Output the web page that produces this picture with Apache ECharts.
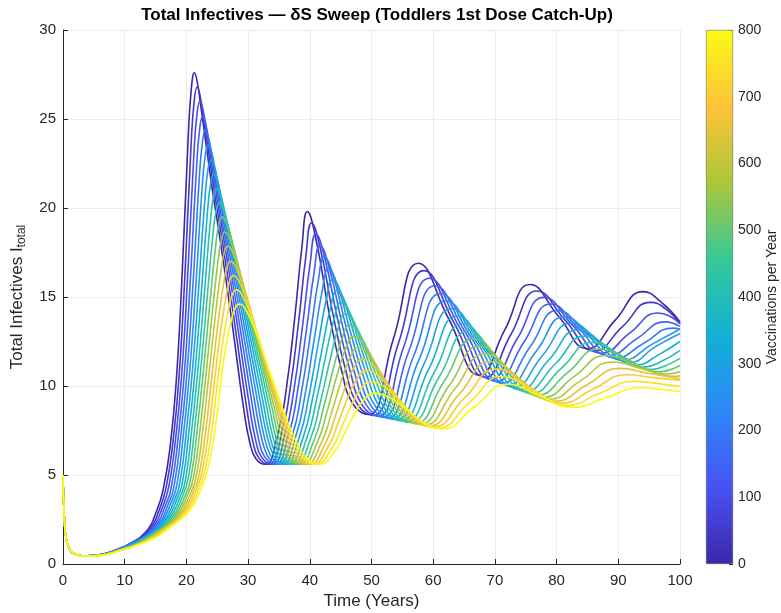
<!DOCTYPE html>
<html><head><meta charset="utf-8">
<script src="https://cdn.jsdelivr.net/npm/echarts@6/dist/echarts.min.js"></script>
<style>html,body{margin:0;padding:0;background:#fff}#c{width:781px;height:613px}</style>
</head><body><div id="c"></div>
<script>
// Vaccinations per year (δS) for each curve
const deltaS = [0,50,100,150,200,250,300,350,400,450,500,550,600,650,700,750,800];
const xTicks = [0,10,20,30,40,50,60,70,80,90,100];
const yTicks = [0,5,10,15,20,25,30];
const cbTicks = [0,100,200,300,400,500,600,700,800];

// [time (years), total infectives]
const I_0 = [[0,5],[0.25,2.3],[0.6,1.25],[1.2,0.75],[2,0.55],[3,0.46],[5,0.48],[7,0.6],[9,0.85],
 [10.3,1.05],[13.3,1.75],[15.3,3.1],[16.3,4.3],[17.3,6.4],[18.3,9.99],[19.3,16.2],[20.3,24.01],[20.8,26.69],[21.3,27.6],
 [21.8,27.0],[22.3,25.81],[23.3,23.29],[24.3,20.81],[25.3,18.6],[27.3,13.8],[29.3,8.69],[30.3,6.8],[31.3,5.9],[32.8,5.6],
 [34.84,7.3],[36.2,9.86],[37.56,13.84],[38.72,17.81],[39.6,19.8],[41.09,18.09],[43.07,14.21],[45.05,11.02],[47.03,8.97],[49.5,8.4],
 [53.55,12.65],[57.6,16.9],[62.55,13.75],[67.5,10.6],[71.6,13.15],[75.7,15.7],[80.35,13.9],[85,12.1],[89.5,13.7],[94,15.3],[97,14.7],[100,13.6]];
const I_50 = [[0,5],[0.25,2.3],[0.6,1.25],[1.2,0.75],[2,0.55],[3,0.46],[5,0.48],[7,0.6],[9,0.84],
 [10.75,1.12],[13.75,1.83],[15.75,3.18],[16.75,4.37],[17.75,6.65],[18.75,10.24],[19.75,16.17],[20.75,23.47],[21.25,25.95],[21.75,26.8],
 [22.25,26.24],[22.75,25.14],[23.75,22.78],[24.75,20.41],[25.75,18.29],[27.75,13.69],[29.75,8.82],[30.75,6.9],[31.75,5.95],[33.34,5.6],
 [35.42,7.3],[36.81,9.84],[38.2,13.64],[39.38,17.34],[40.28,19.16],[41.78,17.6],[43.77,14.01],[45.76,10.97],[47.76,8.96],[50.25,8.35],
 [54.38,12.42],[58.5,16.48],[63.47,13.49],[68.44,10.49],[72.63,12.92],[76.81,15.34],[81.48,13.66],[86.15,11.97],[90.68,13.34],[95.2,14.7],[97.6,14.35],[100,13.5]];
const I_100 = [[0,5],[0.25,2.3],[0.6,1.25],[1.2,0.75],[2,0.55],[3,0.46],[5,0.48],[7,0.59],[9,0.83],
 [11.2,1.18],[14.2,1.91],[16.2,3.25],[17.2,4.44],[18.2,6.88],[19.2,10.46],[20.2,16.11],[21.2,22.91],[21.7,25.22],[22.2,26.0],
 [22.7,25.49],[23.2,24.47],[24.2,22.25],[25.2,20.0],[26.2,17.96],[28.2,13.56],[30.2,8.92],[31.2,7.0],[32.2,6.0],[33.89,5.6],
 [36.01,7.29],[37.43,9.8],[38.85,13.45],[40.05,16.87],[40.97,18.53],[42.47,17.12],[44.48,13.79],[46.49,10.9],[48.49,8.93],[51.0,8.3],
 [55.2,12.18],[59.4,16.05],[64.39,13.22],[69.38,10.38],[73.66,12.68],[77.93,14.98],[82.62,13.41],[87.3,11.84],[91.85,12.97],[96.4,14.1],[98.2,13.95],[100,13.5]];
const I_150 = [[0,5],[0.25,2.3],[0.6,1.25],[1.2,0.75],[2,0.55],[3,0.46],[5,0.48],[7,0.59],[9,0.83],
 [11.65,1.25],[14.65,1.98],[16.65,3.33],[17.65,4.51],[18.65,7.06],[19.65,10.63],[20.65,16.0],[21.65,22.3],[22.15,24.43],[22.65,25.15],
 [23.15,24.69],[23.65,23.74],[24.65,21.67],[25.65,19.54],[26.65,17.58],[28.65,13.38],[30.65,8.99],[31.65,7.1],[32.65,6.05],[34.43,5.6],
 [36.59,7.27],[38.04,9.75],[39.48,13.22],[40.7,16.39],[41.64,17.89],[43.16,16.62],[45.18,13.56],[47.2,10.81],[49.22,8.91],[51.75,8.25],
 [56.03,11.94],[60.3,15.63],[65.31,12.95],[70.32,10.26],[74.68,12.44],[79.04,14.61],[83.75,13.16],[88.45,11.71],[93.03,12.66],[97.6,13.6],[100,13.35]];
const I_200 = [[0,5],[0.25,2.3],[0.6,1.25],[1.2,0.75],[2,0.55],[3,0.46],[5,0.48],[7,0.58],[9,0.82],
 [12.1,1.31],[15.1,2.06],[17.1,3.4],[18.1,4.58],[19.1,7.24],[20.1,10.78],[21.1,15.89],[22.1,21.73],[22.6,23.69],[23.1,24.35],
 [23.6,23.93],[24.1,23.06],[25.1,21.12],[26.1,19.11],[27.1,17.23],[29.1,13.22],[31.1,9.05],[32.1,7.2],[33.1,6.1],[34.1,5.71],[34.98,5.6],
 [37.19,7.25],[38.66,9.68],[40.13,12.98],[41.37,15.9],[42.33,17.25],[43.86,16.11],[45.89,13.3],[47.92,10.72],[49.96,8.87],[52.5,8.2],
 [56.85,11.7],[61.2,15.2],[66.23,12.68],[71.26,10.15],[75.71,12.2],[80.15,14.25],[84.88,12.92],[89.6,11.58],[94.2,12.42],[98.8,13.25],[100,13.2]];
const I_250 = [[0,5],[0.25,2.3],[0.6,1.25],[1.2,0.75],[2,0.55],[3,0.46],[5,0.48],[7,0.58],[9,0.81],
 [12.55,1.38],[15.55,2.14],[17.55,3.48],[18.55,4.64],[19.55,7.39],[20.55,10.9],[21.55,15.75],[22.55,21.14],[23.05,22.94],[23.55,23.55],
 [24.05,23.17],[24.55,22.37],[25.55,20.57],[26.55,18.66],[27.55,16.86],[29.55,13.03],[31.55,9.08],[32.55,7.25],[33.55,6.15],[34.55,5.73],[35.52,5.6],
 [37.77,7.22],[39.27,9.59],[40.76,12.72],[42.04,15.4],[43.01,16.61],[44.55,15.59],[46.59,13.04],[48.64,10.6],[50.69,8.83],[53.25,8.15],
 [57.68,11.47],[62.1,14.78],[67.15,12.41],[72.2,10.04],[76.73,11.97],[81.26,13.89],[86.0,12.67],[90.75,11.45],[95.5,12.35],[100,13.2]];
const I_300 = [[0,5],[0.25,2.3],[0.6,1.25],[1.2,0.75],[2,0.55],[3,0.46],[5,0.47],[7,0.57],[9,0.8],
 [10.0,0.9],[13.0,1.44],[16.0,2.22],[18.0,3.55],[19.0,4.71],[20.0,7.49],[21.0,10.97],[22.0,15.56],[23.0,20.51],[23.5,22.15],[24.0,22.7],
 [24.5,22.36],[25.0,21.63],[26.0,19.96],[27.0,18.16],[28.0,16.44],[30.0,12.81],[32.0,9.07],[33.0,7.3],[34.0,6.2],[35.0,5.75],[36.06,5.6],
 [38.35,7.18],[39.88,9.49],[41.4,12.45],[42.7,14.9],[43.69,15.98],[45.24,15.08],[47.3,12.76],[49.36,10.48],[51.42,8.78],[54.0,8.1],
 [58.5,11.23],[63.0,14.35],[68.07,12.14],[73.14,9.93],[77.76,11.73],[82.38,13.53],[87.14,12.43],[91.9,11.32],[95.95,12.2],[100,12.95]];
const I_350 = [[0,5],[0.25,2.3],[0.6,1.25],[1.2,0.75],[2,0.55],[3,0.46],[5,0.47],[7,0.57],[9,0.79],
 [10.45,0.95],[13.45,1.51],[16.45,2.3],[18.45,3.63],[19.45,4.78],[20.45,7.58],[21.45,11.02],[22.45,15.37],[23.45,19.91],[23.95,21.4],[24.45,21.9],
 [24.95,21.6],[25.45,20.94],[26.45,19.38],[27.45,17.69],[28.45,16.04],[30.45,12.59],[32.45,9.06],[33.45,7.3],[34.45,6.2],[35.45,5.77],[36.61,5.6],
 [38.94,7.14],[40.49,9.37],[42.04,12.16],[43.36,14.39],[44.37,15.34],[45.93,14.55],[48.0,12.46],[50.08,10.34],[52.16,8.72],[54.75,8.05],
 [59.33,10.99],[63.9,13.93],[68.99,11.87],[74.08,9.81],[78.79,11.49],[83.49,13.16],[88.27,12.18],[93.05,11.19],[96.5,11.75],[100,12.5]];
const I_400 = [[0,5],[0.25,2.3],[0.6,1.25],[1.2,0.75],[2,0.55],[3,0.46],[5,0.47],[7,0.56],[9,0.79],
 [10.9,1.0],[13.9,1.58],[16.9,2.38],[18.9,3.7],[19.9,4.85],[20.9,7.65],[21.9,11.05],[22.9,15.15],[23.9,19.3],[24.4,20.65],[24.9,21.1],
 [25.4,20.84],[25.9,20.23],[26.9,18.8],[27.9,17.21],[28.9,15.64],[30.9,12.35],[32.9,9.03],[33.9,7.3],[34.9,6.25],[35.9,5.79],[37.15,5.6],
 [39.52,7.08],[41.1,9.24],[42.68,11.85],[44.02,13.87],[45.05,14.7],[46.62,14.02],[48.71,12.14],[50.8,10.18],[52.89,8.66],[55.5,8.0],
 [60.15,10.75],[64.8,13.5],[69.91,11.6],[75.02,9.7],[79.81,11.25],[84.6,12.8],[89.4,11.93],[94.2,11.06],[97.1,11.4],[100,12.0]];
const I_450 = [[0,5],[0.25,2.3],[0.6,1.25],[1.2,0.75],[2,0.55],[3,0.46],[5,0.47],[7,0.56],[9,0.78],
 [11.35,1.05],[14.35,1.64],[17.35,2.45],[19.35,3.78],[20.35,4.92],[21.35,7.69],[22.35,11.04],[23.35,14.91],[24.35,18.68],[24.85,19.89],[25.35,20.3],
 [25.85,20.07],[26.35,19.53],[27.35,18.21],[28.35,16.71],[29.35,15.21],[31.35,12.1],[33.35,8.97],[34.35,7.3],[35.35,6.25],[36.35,5.81],[37.69,5.6],
 [40.1,7.02],[41.71,9.09],[43.32,11.52],[44.68,13.34],[45.73,14.06],[47.31,13.47],[49.41,11.81],[51.52,10.02],[53.62,8.59],[56.25,7.95],
 [60.98,10.52],[65.7,13.08],[70.83,11.34],[75.96,9.59],[80.84,11.02],[85.71,12.44],[90.53,11.69],[95.35,10.93],[97.7,11.15],[100,11.55]];
const I_500 = [[0,5],[0.25,2.3],[0.6,1.25],[1.2,0.75],[2,0.55],[3,0.46],[5,0.46],[7,0.55],[9,0.77],
 [11.8,1.1],[14.8,1.71],[17.8,2.53],[19.8,3.85],[20.8,4.99],[21.8,7.7],[22.8,11.0],[23.8,14.64],[24.8,18.05],[25.3,19.14],[25.8,19.5],
 [26.3,19.3],[26.8,18.82],[27.8,17.6],[28.8,16.2],[29.8,14.78],[31.8,11.83],[33.8,8.9],[34.8,7.3],[35.8,6.3],[36.8,5.83],[38.24,5.6],
 [40.69,6.96],[42.33,8.93],[43.97,11.19],[45.36,12.81],[46.42,13.43],[48.01,12.93],[50.12,11.47],[52.24,9.84],[54.36,8.51],[57.0,7.9],
 [61.8,10.28],[66.6,12.65],[71.75,11.07],[76.9,9.48],[81.87,10.78],[86.83,12.08],[91.67,11.44],[96.5,10.8],[100,11.15]];
const I_550 = [[0,5],[0.25,2.3],[0.6,1.25],[1.2,0.75],[2,0.55],[3,0.46],[5,0.46],[7,0.55],[9,0.76],
 [12.25,1.15],[15.25,1.77],[18.25,2.61],[20.25,3.93],[21.25,5.06],[22.25,7.67],[23.25,10.89],[24.25,14.31],[25.25,17.37],[25.75,18.33],[26.25,18.65],
 [26.75,18.48],[27.25,18.05],[28.25,16.95],[29.25,15.64],[30.25,14.29],[32.25,11.52],[34.25,8.77],[35.25,7.3],[36.25,6.3],[37.25,5.85],[38.78,5.6],
 [41.27,6.89],[42.94,8.75],[44.6,10.83],[46.01,12.27],[47.09,12.79],[48.69,12.38],[50.82,11.11],[52.95,9.64],[55.09,8.42],[57.75,7.85],
 [62.63,10.04],[67.5,12.23],[72.67,10.8],[77.84,9.36],[82.89,10.54],[87.94,11.71],[92.8,11.19],[97.65,10.67],[100,10.8]];
const I_600 = [[0,5],[0.25,2.3],[0.6,1.25],[1.2,0.75],[2,0.55],[3,0.45],[5,0.46],[7,0.54],[9,0.75],
 [12.7,1.2],[15.7,1.84],[18.7,2.69],[20.7,4.0],[21.7,5.13],[22.7,7.64],[23.7,10.79],[24.7,13.99],[25.7,16.72],[26.2,17.57],[26.7,17.85],
 [27.2,17.71],[27.7,17.33],[28.7,16.32],[29.7,15.11],[30.7,13.82],[32.7,11.22],[34.7,8.65],[35.7,7.25],[36.7,6.35],[37.7,5.87],[39.33,5.6],
 [41.87,6.81],[43.56,8.55],[45.25,10.45],[46.68,11.71],[47.78,12.15],[49.39,11.81],[51.53,10.73],[53.68,9.43],[55.82,8.33],[58.5,7.8],
 [63.45,9.8],[68.4,11.8],[73.59,10.53],[78.78,9.25],[83.92,10.3],[89.05,11.35],[93.93,10.95],[98.8,10.54],[100,10.57]];
const I_650 = [[0,5],[0.25,2.3],[0.6,1.25],[1.2,0.75],[2,0.55],[3,0.45],[5,0.46],[7,0.54],[9,0.74],
 [13.15,1.26],[16.15,1.9],[19.15,2.77],[21.15,4.08],[22.15,5.19],[23.15,7.55],[24.15,10.62],[25.15,13.6],[26.15,16.02],[26.65,16.76],[27.15,17.0],
 [27.65,16.89],[28.15,16.56],[29.15,15.65],[30.15,14.52],[31.15,13.31],[33.15,10.86],[35.15,8.48],[36.15,7.2],[37.15,6.35],[38.15,5.89],[39.87,5.6],
 [42.45,6.72],[44.17,8.33],[45.88,10.06],[47.34,11.15],[48.46,11.51],[50.08,11.24],[52.24,10.33],[54.39,9.2],[56.55,8.23],[59.25,7.75],
 [64.28,9.57],[69.3,11.38],[74.51,10.26],[79.72,9.14],[84.94,10.07],[90.16,10.99],[95.06,10.7],[100,10.41]];
const I_700 = [[0,5],[0.25,2.3],[0.6,1.25],[1.2,0.75],[2,0.55],[3,0.45],[5,0.45],[7,0.53],[9,0.74],
 [13.6,1.3],[16.6,1.97],[19.6,2.84],[21.6,4.15],[22.6,5.26],[23.6,7.46],[24.6,10.44],[25.6,13.22],[26.6,15.36],[27.1,15.99],[27.6,16.2],
 [28.1,16.11],[28.6,15.83],[29.6,15.0],[30.6,13.96],[31.6,12.82],[33.6,10.52],[35.6,8.31],[36.6,7.15],[37.6,6.4],[38.6,5.91],[40.41,5.6],
 [43.03,6.63],[44.78,8.11],[46.52,9.65],[48.01,10.59],[49.14,10.88],[50.77,10.67],[52.94,9.93],[55.11,8.97],[57.29,8.13],[60.0,7.7],
 [65.1,9.33],[70.2,10.95],[75.43,9.99],[80.66,9.03],[85.97,9.83],[91.28,10.63],[95.64,10.47],[100,10.33]];
const I_750 = [[0,5],[0.25,2.3],[0.6,1.25],[1.2,0.75],[2,0.55],[3,0.45],[5,0.45],[7,0.53],[9,0.73],
 [14.05,1.35],[17.05,2.03],[20.05,2.92],[22.05,4.23],[23.05,5.33],[24.05,7.34],[25.05,10.24],[26.05,12.82],[27.05,14.68],[27.55,15.22],[28.05,15.4],
 [28.55,15.34],[29.05,15.09],[30.05,14.35],[31.05,13.39],[32.05,12.31],[34.05,10.17],[36.05,8.11],[37.05,7.1],[38.05,6.4],[39.05,5.93],[40.96,5.6],
 [43.62,6.53],[45.39,7.86],[47.16,9.22],[48.67,10.01],[49.82,10.24],[51.46,10.08],[53.65,9.5],[55.83,8.71],[58.02,8.01],[60.75,7.65],
 [65.93,9.09],[71.1,10.53],[76.35,9.72],[81.6,8.91],[87.0,9.59],[92.39,10.26],[96.2,10.15],[100,9.98]];
const I_800 = [[0,5],[0.25,2.3],[0.6,1.25],[1.2,0.75],[2,0.55],[3,0.45],[5,0.45],[7,0.52],[9,0.72],
 [14.5,1.4],[17.5,2.1],[20.5,3.0],[22.5,4.3],[23.5,5.4],[24.5,7.2],[25.5,10.0],[26.5,12.4],[27.5,14.0],[28.0,14.45],[28.5,14.6],
 [29.0,14.56],[29.5,14.35],[30.5,13.69],[31.5,12.8],[32.5,11.8],[34.5,9.8],[36.5,7.9],[37.5,7.1],[38.5,6.4],[39.5,5.95],[41.5,5.6],
 [44.2,6.42],[46.0,7.6],[47.8,8.78],[49.33,9.43],[50.5,9.6],[52.15,9.49],[54.35,9.05],[56.55,8.44],[58.75,7.89],[61.5,7.6],
 [66.75,8.85],[72.0,10.1],[77.27,9.45],[82.54,8.8],[88.02,9.35],[93.5,9.9],[96.75,9.82],[100,9.7]];

const curves = [I_0,I_50,I_100,I_150,I_200,I_250,I_300,I_350,I_400,I_450,I_500,I_550,I_600,I_650,I_700,I_750,I_800];

// parula colormap anchors
const parula = ['#3E26A8','#4752F4','#2D87F7','#12B1D6','#37C897','#ABC739','#FEC338','#F9FB15'];
function hex2rgb(h){return [1,3,5].map(i=>parseInt(h.substr(i,2),16));}
function cmap(f){
  const n = parula.length-1, p = Math.min(n-1e-9, Math.max(0,f*n)), i = Math.floor(p), t = p-i;
  const a = hex2rgb(parula[i]), b = hex2rgb(parula[i+1]);
  return 'rgb(' + a.map((v,j)=>Math.round(v+(b[j]-v)*t)).join(',') + ')';
}

const FONT = 'Liberation Sans, Arial, Helvetica, sans-serif';
const AX = '#262626';

const series = curves.map((d,k)=>({
  type:'line', name:'δS = '+deltaS[k], data:d, xAxisIndex:0, yAxisIndex:0,
  showSymbol:false, smooth:0.5, silent:true,
  lineStyle:{width:1.6, color:cmap(deltaS[k]/800)}, itemStyle:{color:cmap(deltaS[k]/800)},
  z: 2 + k
}));
series.push({
  type:'bar', xAxisIndex:1, yAxisIndex:1, data:[800], barWidth:'100%', silent:true,
  itemStyle:{borderColor:'#555', borderWidth:0.5,
    color:{type:'linear', x:0, y:1, x2:0, y2:0,
      colorStops: parula.map((c,i)=>({offset:i/(parula.length-1), color:c}))}}
});

const chart = echarts.init(document.getElementById('c'), null, {renderer:'canvas'});
chart.setOption({
  animation:false,
  backgroundColor:'#ffffff',
  textStyle:{fontFamily:FONT},
  title:{
    text:'Total Infectives — δS Sweep (Toddlers 1st Dose Catch-Up)',
    left:372, top:2, textAlign:'center',
    textStyle:{fontFamily:FONT, fontSize:17, fontWeight:'bold', color:'#000'}
  },
  grid:[
    {left:63, top:30, width:617, height:534, outerBoundsMode:'none', containLabel:false},
    {left:706, top:30, width:27, height:534, outerBoundsMode:'none', containLabel:false}
  ],
  xAxis:[
    {type:'value', gridIndex:0, min:0, max:100, interval:10,
     name:'Time (Years)', nameLocation:'middle', nameGap:29,
     nameTextStyle:{fontSize:17, color:AX, fontFamily:FONT},
     axisLine:{show:true, lineStyle:{color:AX, width:1}},
     axisTick:{show:true, inside:true, length:5, lineStyle:{color:AX}},
     axisLabel:{fontSize:15, color:AX, margin:9, fontFamily:FONT},
     splitLine:{show:true, lineStyle:{color:'#ececec', width:1}}},
    {type:'category', gridIndex:1, data:[''], show:false}
  ],
  yAxis:[
    {type:'value', gridIndex:0, min:0, max:30, interval:5,
     name:'{a|Total Infectives I}{b|total}', nameLocation:'middle', nameGap:35,
     nameTextStyle:{color:AX, fontFamily:FONT, rich:{
       a:{fontSize:17, color:AX, fontFamily:FONT},
       b:{fontSize:12, color:AX, fontFamily:FONT, padding:[10,0,0,0]}}},
     axisLine:{show:true, lineStyle:{color:AX, width:1}},
     axisTick:{show:true, inside:true, length:5, lineStyle:{color:AX}},
     axisLabel:{fontSize:15, color:AX, margin:7, fontFamily:FONT},
     splitLine:{show:true, lineStyle:{color:'#ececec', width:1}}},
    {type:'value', gridIndex:1, min:0, max:800, interval:100, position:'right',
     name:'Vaccinations per Year', nameLocation:'middle', nameGap:29, nameRotate:90,
     nameTextStyle:{fontSize:14, color:AX, fontFamily:FONT},
     axisLine:{show:false},
     axisTick:{show:true, inside:true, length:4, lineStyle:{color:AX}},
     axisLabel:{fontSize:14, color:AX, margin:5, fontFamily:FONT},
     splitLine:{show:false}}
  ],
  series: series
});
</script>
</body></html>
